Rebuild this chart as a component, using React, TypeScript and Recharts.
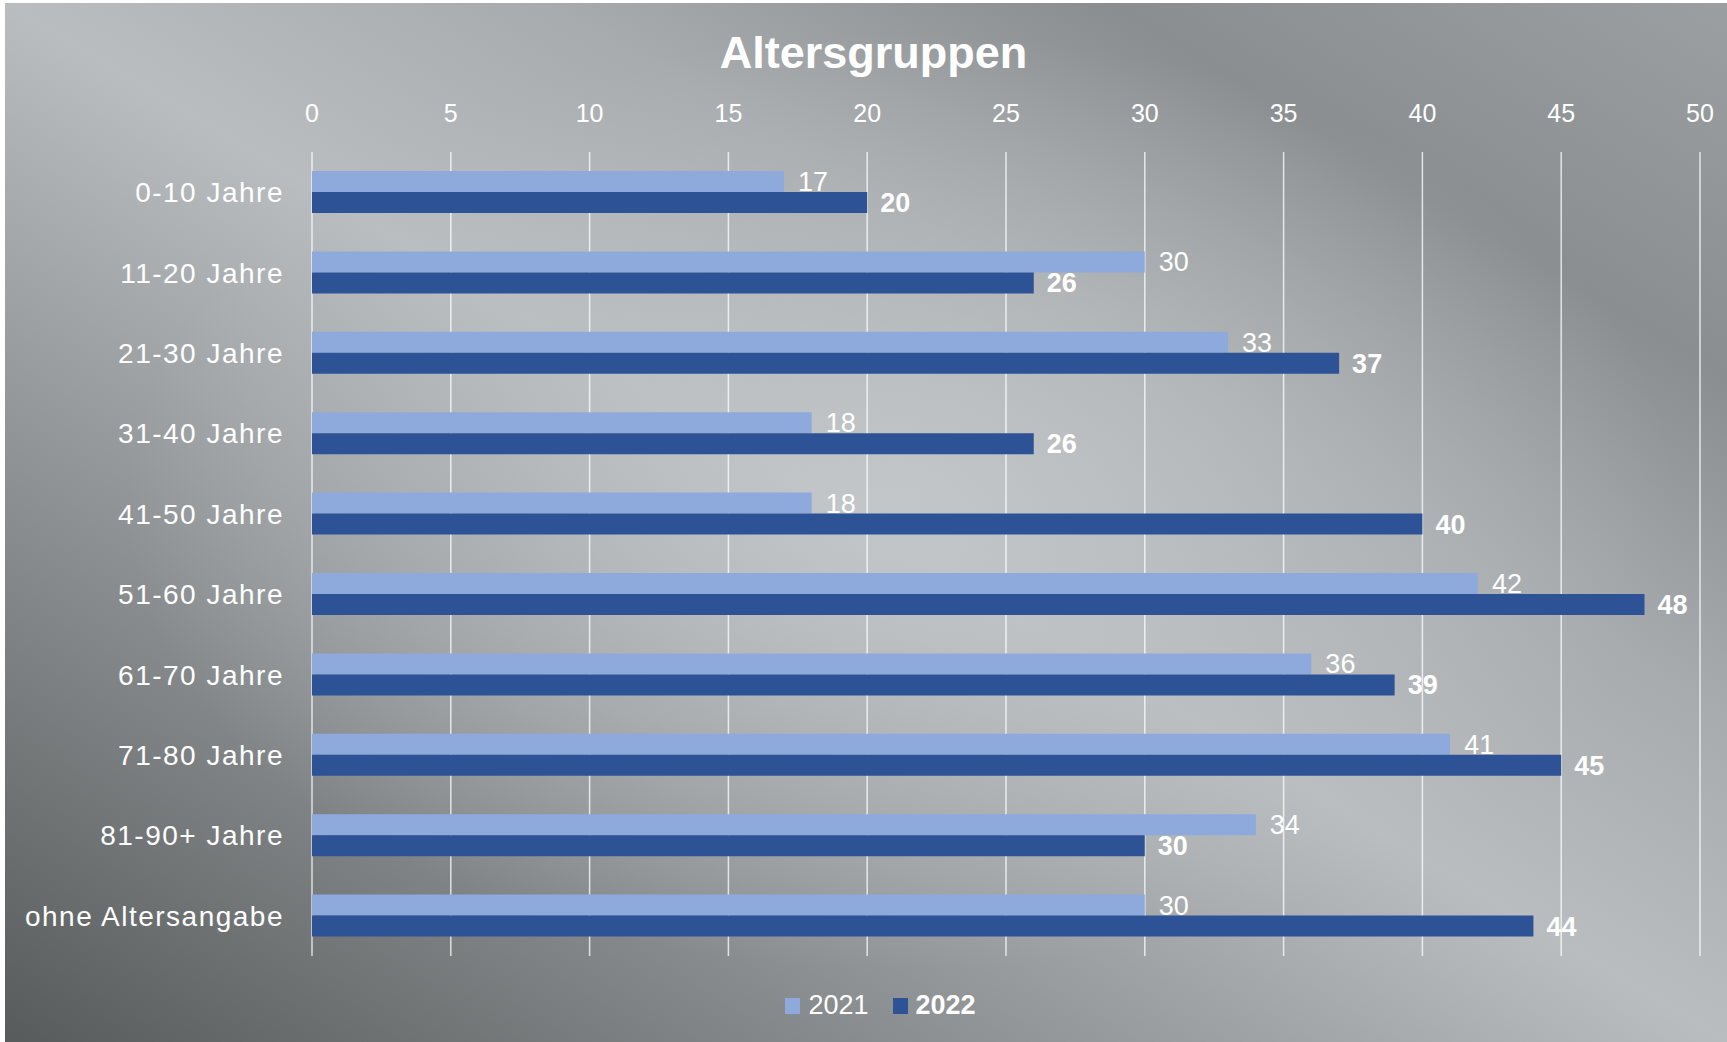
import { BarChart, Bar, XAxis, YAxis, CartesianGrid, Legend, LabelList } from 'recharts'

const ageGroups = [
  '0-10 Jahre',
  '11-20 Jahre',
  '21-30 Jahre',
  '31-40 Jahre',
  '41-50 Jahre',
  '51-60 Jahre',
  '61-70 Jahre',
  '71-80 Jahre',
  '81-90+ Jahre',
  'ohne Altersangabe',
]
const values2021 = [17, 30, 33, 18, 18, 42, 36, 41, 34, 30]
const values2022 = [20, 26, 37, 26, 40, 48, 39, 45, 30, 44]
const xTicks = [0, 5, 10, 15, 20, 25, 30, 35, 40, 45, 50]

const FONT = '"Liberation Sans", Arial, sans-serif'
const LIGHT = '#8eaadc'
const DARK = '#2d5396'

const W = 1727
const H = 1042

const CategoryTick = ({ x, y, payload }: any) => (
  <text x={x} y={y} dy="0.36em" textAnchor="end" fill="#fff" fontSize={28} letterSpacing={1.5} fontFamily={FONT}>
    {payload.value}
  </text>
)

const ValueTick = ({ x, y, payload }: any) => (
  <text x={x} y={y} textAnchor="middle" fill="#fff" fontSize={25} fontFamily={FONT}>
    {payload.value}
  </text>
)

const LegendContent = () => (
  <div style={{ display: 'flex', justifyContent: 'center', alignItems: 'center', gap: 24, color: '#fff', fontFamily: FONT, fontSize: 27, paddingLeft: 34 }}>
    <span style={{ display: 'flex', alignItems: 'center', gap: 8 }}>
      <span style={{ width: 15, height: 16, background: LIGHT, display: 'inline-block' }} />
      2021
    </span>
    <span style={{ display: 'flex', alignItems: 'center', gap: 8, fontWeight: 'bold' }}>
      <span style={{ width: 15, height: 16, background: DARK, display: 'inline-block' }} />
      2022
    </span>
  </div>
)

export default function App() {
  const data = ageGroups.map((name, i) => ({ name, y2021: values2021[i], y2022: values2022[i] }))

  return (
    <div style={{ position: 'absolute', left: 0, top: 0, width: W, height: H, background: '#fff', overflow: 'hidden' }}>
      <div
        style={{
          position: 'absolute',
          left: 5,
          top: 3,
          width: W - 5,
          height: H - 3,
          background:
            'radial-gradient(ellipse 45% 45% at 52% 48%, rgba(196,200,202,0.85) 0%, rgba(190,194,196,0.4) 55%, rgba(190,194,196,0) 100%),' +
            'linear-gradient(to top right, #585b5c 0%, #8e9294 28%, #b9bdbf 50%, #a7abad 66%, #8a8e90 82%, #9b9fa1 100%)',
        }}
      />
      <div
        style={{
          position: 'absolute',
          left: 0,
          top: 27,
          width: W,
          paddingLeft: 20,
          boxSizing: 'border-box',
          textAlign: 'center',
          color: '#fff',
          fontFamily: FONT,
          fontWeight: 'bold',
          fontSize: 45,
        }}
      >
        Altersgruppen
      </div>
      <div style={{ position: 'absolute', left: 0, top: 0 }}>
        <BarChart
          width={W}
          height={H}
          data={data}
          layout="vertical"
          margin={{ top: 0, right: 27, bottom: 55, left: 0 }}
          barGap={0}
          barSize={21}
        >
          <CartesianGrid horizontal={false} vertical stroke="rgba(255,255,255,0.75)" strokeWidth={1.5} />
          <XAxis
            type="number"
            orientation="top"
            domain={[0, 50]}
            ticks={xTicks}
            height={152}
            axisLine={false}
            tickLine={false}
            tickSize={0}
            tickMargin={30}
            tick={<ValueTick />}
          />
          <YAxis
            type="category"
            dataKey="name"
            width={312}
            axisLine={false}
            tickLine={false}
            tickSize={0}
            tickMargin={28}
            tick={<CategoryTick />}
            interval={0}
          />
          <Legend
            content={<LegendContent />}
            wrapperStyle={{ position: 'absolute', left: 0, top: 990, width: W }}
          />
          <Bar dataKey="y2021" name="2021" fill={LIGHT} isAnimationActive={false}>
            <LabelList dataKey="y2021" position="right" offset={14} fill="#fff" fontSize={27} fontFamily={FONT} />
          </Bar>
          <Bar dataKey="y2022" name="2022" fill={DARK} isAnimationActive={false}>
            <LabelList dataKey="y2022" position="right" offset={13} fill="#fff" fontSize={27} fontWeight="bold" fontFamily={FONT} />
          </Bar>
        </BarChart>
      </div>
    </div>
  )
}
